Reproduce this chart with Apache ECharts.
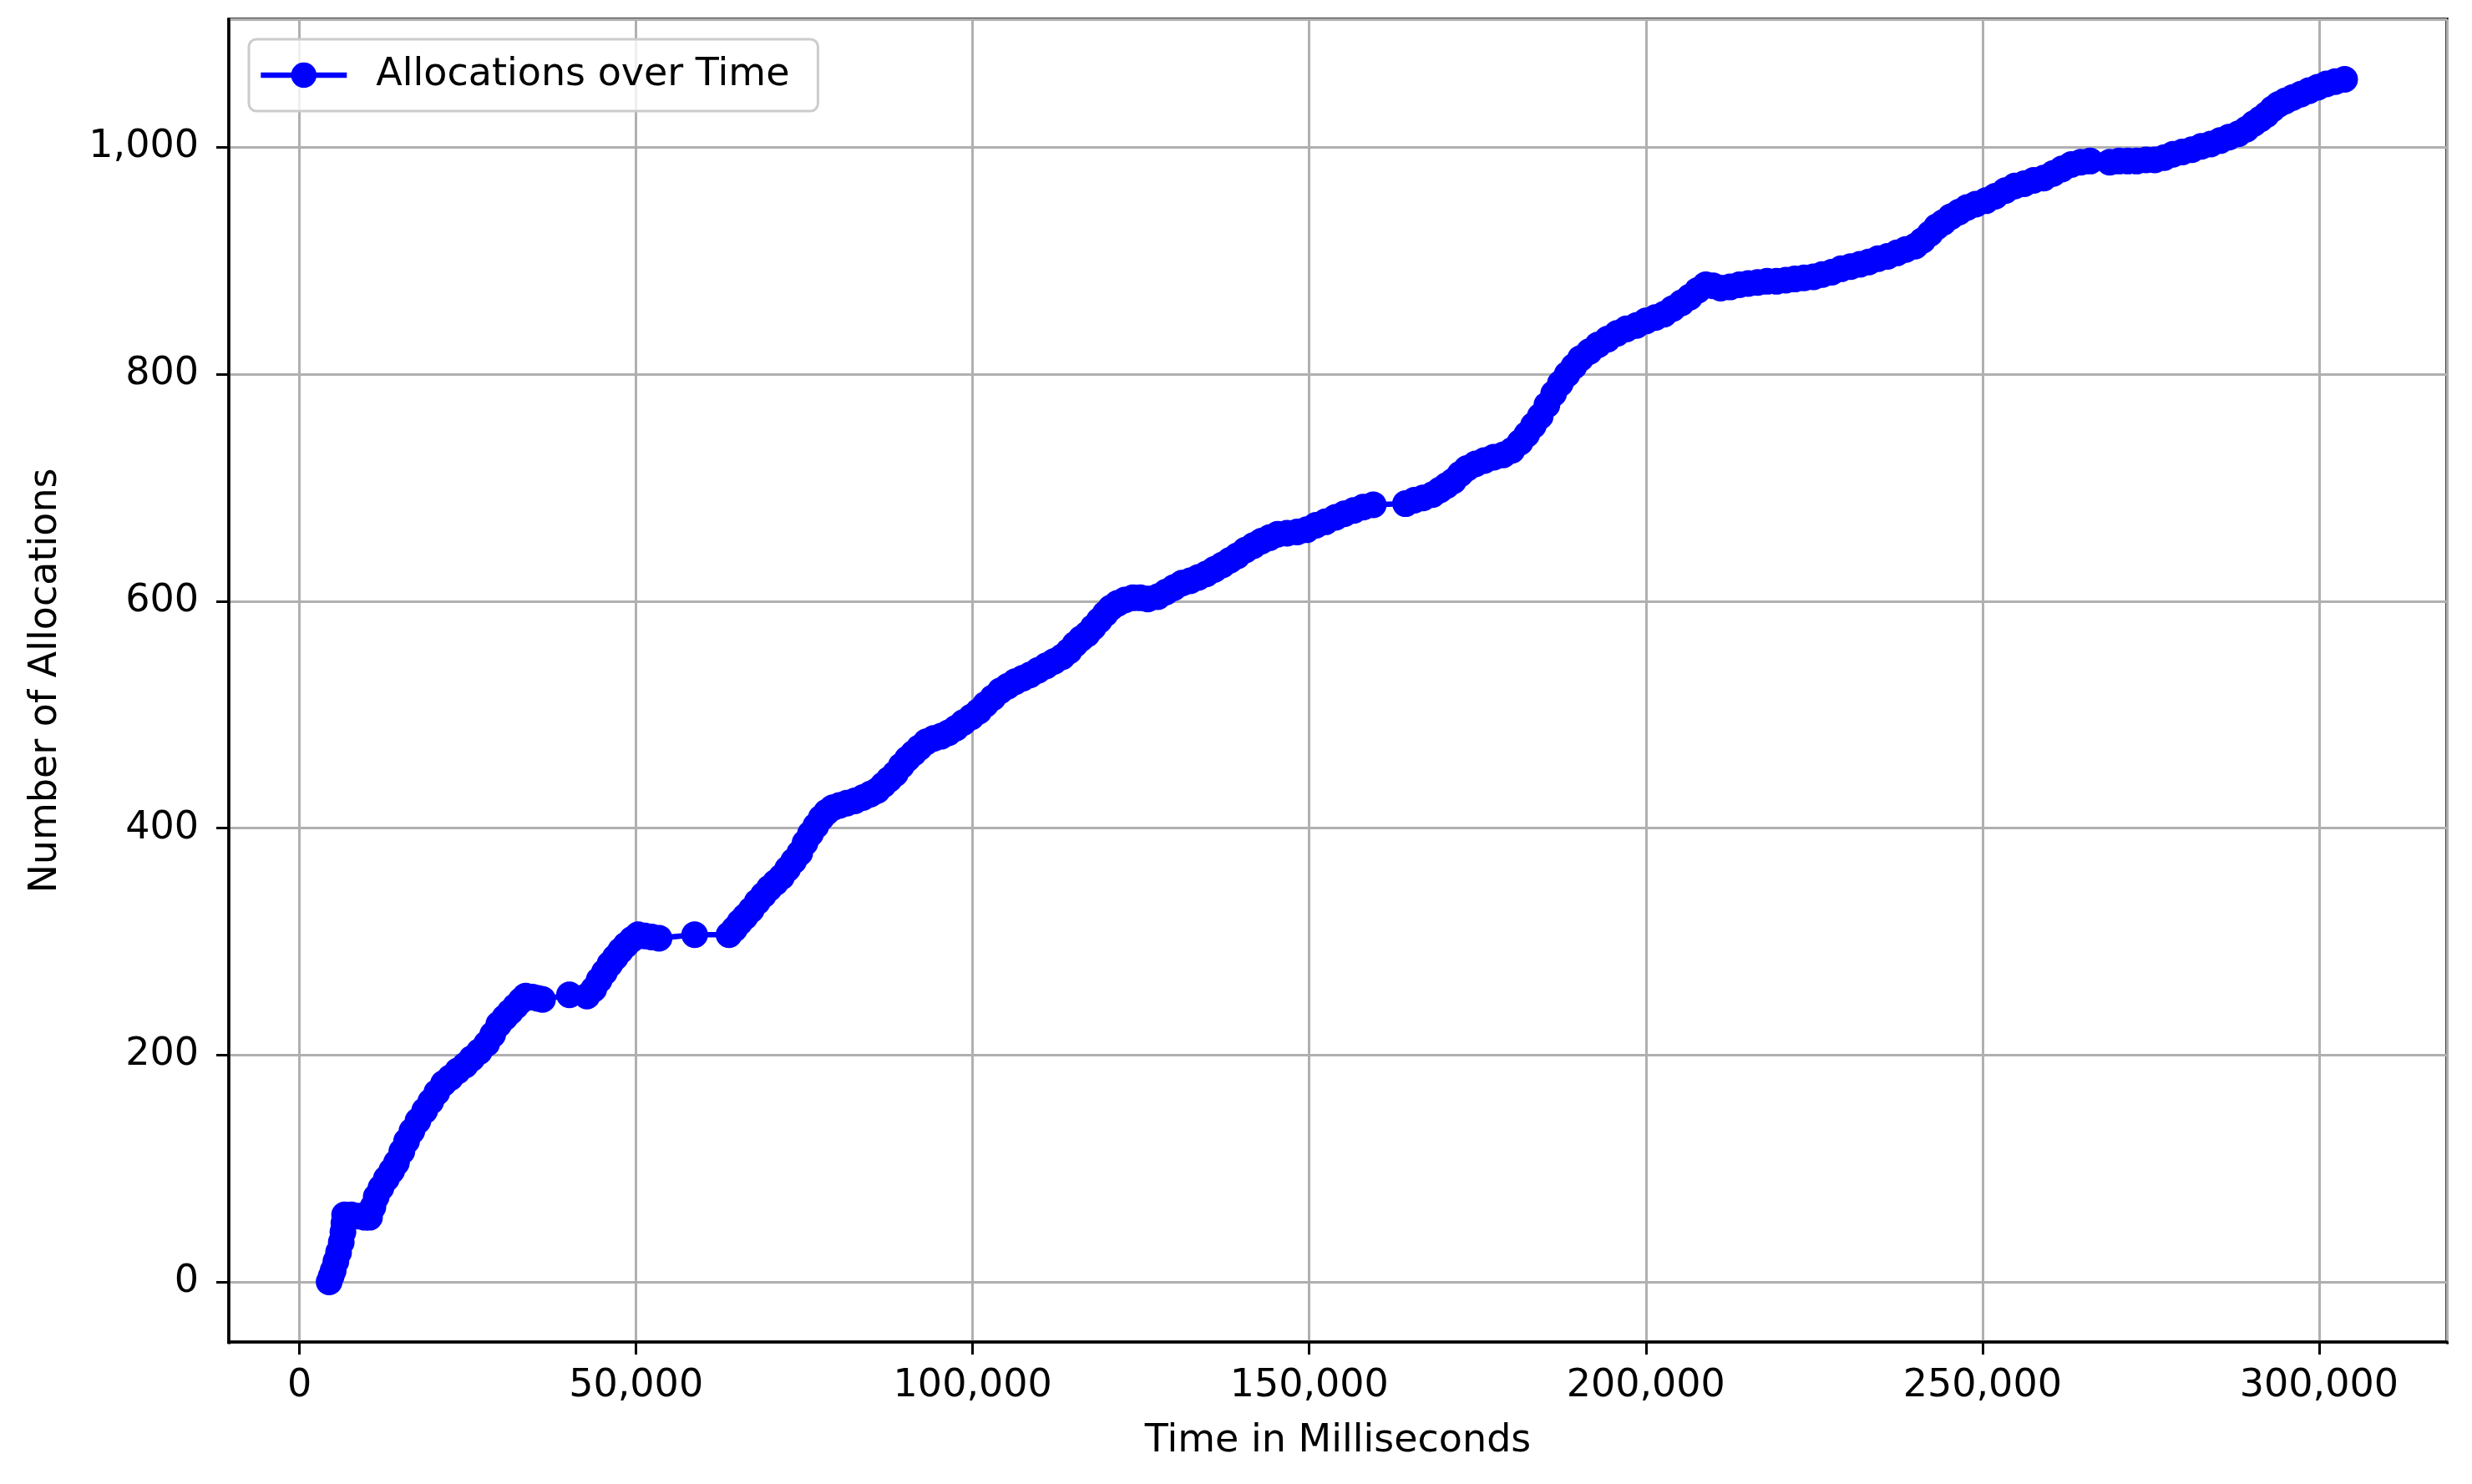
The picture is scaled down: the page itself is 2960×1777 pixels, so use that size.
<!DOCTYPE html>
<html>
<head>
<meta charset="utf-8">
<script src="https://cdn.jsdelivr.net/npm/echarts@6/dist/echarts.min.js"></script>
<style>
  html, body { margin: 0; padding: 0; background: #fff; }
  #chart { width: 2960px; height: 1777px; }
</style>
</head>
<body>
<div id="chart"></div>
<script>
// Time in milliseconds (x) and cumulative number of allocations (y)
const timesMs = [4400,4700,5000,5400,5800,6200,6450,6600,6700,7700,8800,9700,10400,10900,11400,12100,12900,13700,14400,15200,15900,16700,17600,18600,19500,20400,21400,22400,23500,24600,25600,26700,27800,28700,29600,30500,31300,32100,32900,33600,34600,35400,36100,40100,42700,43700,44500,45300,46100,46900,47700,48500,49400,50300,51300,52300,53400,58700,63800,64600,65400,66200,67100,68000,68900,69800,70700,71600,72500,73400,74300,75100,75900,76700,77500,78300,79200,80200,81300,82500,83700,84800,85800,86700,87600,88500,89400,90300,91200,92100,93100,94200,95300,96400,97500,98600,99800,100900,101900,103000,104100,105200,106300,107400,108500,109700,110900,112100,113300,114300,115200,116100,117000,117900,118800,119700,120500,121500,122600,123800,124900,126000,127500,128700,129900,131100,132300,133500,134700,135900,137100,138200,139300,140500,141700,142900,144100,145300,146700,148200,149600,151000,152400,153900,155200,156600,158000,159500,164300,165600,166900,168300,169400,170400,171400,172400,173400,174700,176000,177400,178800,180100,181300,182300,183300,184300,185300,186300,187300,188300,189300,190300,191600,192900,194300,195700,197100,198600,200000,201400,202700,204000,205300,206500,207700,208900,210000,211100,212500,213900,215200,216600,218000,219400,220800,222100,223500,224900,226200,227600,229000,230400,231800,233100,234500,235900,237300,238600,240000,241100,242200,243200,244200,245300,246500,247700,249000,250500,251900,253400,254800,256200,257600,259100,260500,261800,263200,264600,266000,268900,270300,271600,272900,274300,275600,277000,278300,279700,281100,282500,283900,285300,286600,288000,289200,290300,291300,292200,293100,294000,295000,296100,297300,298500,299800,301100,302400,303800];
const allocations = [0,5,10,18,26,35,44,52,59,59,58,57,57,66,75,83,91,98,105,115,124,133,142,151,159,167,175,180,186,191,197,203,210,218,227,233,238,243,248,252,251,250,249,253,252,258,266,273,280,286,292,297,302,306,305,304,303,306,306,311,317,322,328,335,341,347,352,357,364,371,378,387,395,402,409,414,418,420,422,424,427,430,433,438,443,448,455,461,466,471,476,479,481,484,488,493,498,503,509,515,521,525,529,532,535,539,543,547,551,556,562,567,571,577,583,589,594,598,601,603,603,602,604,608,612,616,618,621,624,628,632,636,640,645,649,653,656,659,660,661,663,667,670,674,677,680,683,685,686,689,691,694,698,702,706,712,717,721,724,727,729,733,740,747,755,763,773,783,792,800,807,814,820,826,831,836,840,843,847,850,853,858,863,868,874,879,878,876,877,879,880,881,882,882,883,884,885,886,888,890,893,895,897,899,902,904,907,910,913,918,924,930,934,939,943,947,950,953,957,962,966,968,971,973,977,981,985,987,988,987,988,988,988,989,989,991,994,996,998,1001,1003,1006,1009,1012,1016,1021,1025,1029,1034,1038,1041,1044,1047,1050,1053,1056,1058,1060];
const xTicks = [0, 50000, 100000, 150000, 200000, 250000, 300000];
const yTicks = [0, 200, 400, 600, 800, 1000];
const seriesName = 'Allocations over Time';
const xTitle = 'Time in Milliseconds';
const yTitle = 'Number of Allocations';

const W = 2960, H = 1777;
const G = { left: 274, right: 30, top: 23, bottom: 170 };
const TICK = 15;

const points = timesMs.map((t, i) => [t, allocations[i]]);
const FONT = 'DejaVu Sans';
const fmt = v => Number(v).toLocaleString('en-US');

// white patches hiding the automatic end-of-range ticks at the plot corners
const gx0 = G.left, gx1 = W - G.right, gy0 = G.top, gy1 = H - G.bottom;
const cover = (x, y, w, h) => ({ type: 'rect', z: 100, silent: true, shape: { x, y, width: w, height: h }, style: { fill: '#ffffff' } });

const chart = echarts.init(document.getElementById('chart'), null, { renderer: 'canvas' });
chart.setOption({
  animation: false,
  backgroundColor: '#ffffff',
  grid: {
    left: G.left, right: G.right, top: G.top, bottom: G.bottom,
    show: true, borderColor: '#000000', borderWidth: 3.5, backgroundColor: 'transparent'
  },
  graphic: [
    cover(gx0 - 5, gy1 + 2.5, 10, TICK + 6),
    cover(gx1 - 5, gy1 + 2.5, 10, TICK + 6),
    cover(gx0 - TICK - 6, gy1 - 5, TICK + 4, 10),
    cover(gx0 - TICK - 6, gy0 - 5, TICK + 4, 10)
  ],
  legend: {
    show: true,
    left: 298, top: 47,
    padding: [20, 34, 20, 11],
    backgroundColor: 'rgba(255,255,255,0.8)',
    borderColor: '#cccccc', borderWidth: 3, borderRadius: 9,
    itemWidth: 103, itemHeight: 38,
    lineStyle: { width: 6.6, color: '#0000ff' },
    itemStyle: { color: '#0000ff' },
    textStyle: { fontFamily: FONT, fontSize: 46, color: '#000', padding: [0, 0, 0, 30] },
    data: [seriesName]
  },
  xAxis: {
    type: 'value',
    min: -10500, max: 319000,
    minInterval: 50000, maxInterval: 50000,
    name: xTitle, nameLocation: 'middle', nameGap: 96,
    nameTextStyle: { fontFamily: FONT, fontSize: 46, color: '#000' },
    axisLine: { show: true, onZero: false, lineStyle: { color: '#000', width: 3.5 } },
    axisTick: { show: true, inside: false, length: TICK, lineStyle: { color: '#000', width: 3 } },
    axisLabel: { show: true, margin: 30, fontFamily: FONT, fontSize: 46, color: '#000', formatter: fmt, customValues: xTicks },
    splitLine: { show: true, lineStyle: { color: '#b0b0b0', width: 3 } }
  },
  yAxis: {
    type: 'value',
    min: -53, max: 1113,
    minInterval: 200, maxInterval: 200,
    name: yTitle, nameLocation: 'middle', nameGap: 196,
    nameTextStyle: { fontFamily: FONT, fontSize: 46, color: '#000' },
    axisLine: { show: true, onZero: false, lineStyle: { color: '#000', width: 3.5 } },
    axisTick: { show: true, inside: false, length: TICK, lineStyle: { color: '#000', width: 3 } },
    axisLabel: { show: true, margin: 36, fontFamily: FONT, fontSize: 46, color: '#000', formatter: fmt, customValues: yTicks },
    splitLine: { show: true, lineStyle: { color: '#b0b0b0', width: 3 } }
  },
  series: [{
    name: seriesName,
    type: 'line',
    data: points,
    color: '#0000ff',
    symbol: 'circle',
    symbolSize: 32,
    showSymbol: true,
    itemStyle: { color: '#0000ff' },
    lineStyle: { color: '#0000ff', width: 6.6 },
    clip: false
  }]
});
</script>
</body>
</html>
